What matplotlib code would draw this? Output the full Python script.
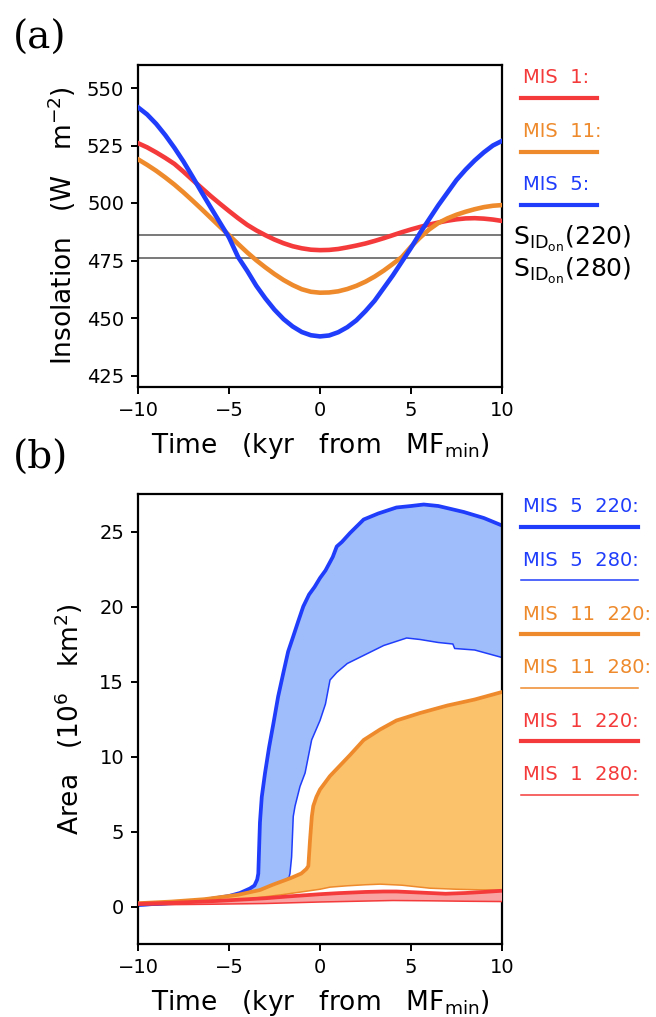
import numpy as np
import matplotlib
matplotlib.use("Agg")
import matplotlib.pyplot as plt
from matplotlib.lines import Line2D

plt.rcParams['font.family'] = ['DejaVu Sans']
plt.rcParams['mathtext.fontset'] = 'dejavusans'

# ---- panel (a): insolation (read every 0.5 kyr) ----
t_ins = [-10, -9.5, -9, -8.5, -8, -7.5, -7, -6.5, -6, -5.5, -5, -4.5, -4, -3.5, -3, -2.5,
         -2, -1.5, -1, -0.5, 0, 0.5, 1, 1.5, 2, 2.5, 3, 3.5, 4, 4.5, 5, 5.5, 6, 6.5,
         7, 7.5, 8, 8.5, 9, 9.5, 10]
ins_mis1 = [526, 524.2, 522, 519.6, 517, 513.6, 510, 506.5, 503, 499.7, 496.5, 493.4,
            490.5, 488.1, 486, 484.1, 482.5, 481.2, 480.3, 479.7, 479.5, 479.6, 480,
            480.7, 481.5, 482.4, 483.5, 484.7, 486, 487.3, 488.5, 489.6, 490.6, 491.5,
            492.3, 492.9, 493.3, 493.4, 493.2, 492.8, 492.2]
ins_mis11 = [519, 516.6, 514, 511.1, 508, 504.6, 501, 497.3, 493.5, 489.7, 486, 482.2,
             478.5, 475.1, 472, 469.1, 466.5, 464.3, 462.5, 461.4, 461, 461.1, 461.6,
             462.6, 464, 465.8, 468, 470.6, 473.5, 476.5, 481, 485, 488.5, 491.3, 493.3,
             494.9, 496.2, 497.3, 498.2, 498.8, 499.1]
ins_mis5 = [541.6, 538.5, 534.4, 529.5, 524, 518, 511.4, 504.6, 498, 491.5, 485, 476.5,
            470.5, 464, 458.5, 453.6, 449.5, 446.3, 443.9, 442.5, 442, 442.4, 443.8,
            446, 449, 453, 457.5, 463, 468.5, 474.5, 480.5, 487, 493, 499, 504.5, 510,
            514.5, 518.5, 522, 525, 527]
s_on = [486, 476]
s_on_labels = ['220', '280']

# ---- panel (b): area ----
t_mis5_220 = [-10, -8, -6.3, -5, -4.4, -3.85, -3.6, -3.45, -3.39, -3.3, -3.2, -3.02,
              -2.8, -2.56, -2.3, -2.01, -1.75, -1.5, -1.2, -0.92, -0.6, -0.3, 0, 0.3,
              0.7, 0.92, 1.2, 1.65, 2.4, 3.2, 4.2, 5.0, 5.7, 6.5, 7.9, 9.0, 10]
a_mis5_220 = [0.1, 0.25, 0.45, 0.7, 0.9, 1.2, 1.4, 1.8, 2.2, 5.6, 7.3, 8.9,
              10.6, 12.2, 14.0, 15.6, 17.0, 17.9, 19.0, 20.0, 20.8, 21.3, 21.9, 22.4,
              23.3, 24.0, 24.3, 24.9, 25.8, 26.2, 26.6, 26.7, 26.8, 26.7, 26.3, 25.9, 25.4]
t_mis5_280 = [-10, -8, -6, -4, -3, -2, -1.7, -1.65, -1.56, -1.47, -1.37, -1.1, -0.82,
              -0.46, 0, 0.3, 0.55, 0.92, 1.5, 2.5, 3.5, 4.76, 5.5, 6.5, 7.3, 7.4, 8.5, 10]
a_mis5_280 = [0.05, 0.15, 0.35, 0.8, 1.2, 1.7, 1.95, 2.2, 3.3, 6.0, 6.7, 8.0, 8.9,
              11.1, 12.4, 13.5, 15.1, 15.6, 16.2, 16.8, 17.4, 17.9, 17.8, 17.6, 17.5,
              17.2, 17.1, 16.6]
t_mis11_220 = [-10, -8.17, -6.34, -4.5, -3.3, -2.6, -1.6, -1.03, -0.75, -0.64, -0.55,
               -0.45, -0.37, -0.2, 0, 0.55, 1.1, 1.65, 2.4, 3.3, 4.2, 5.5, 7.0, 8.5, 10]
a_mis11_220 = [0.22, 0.33, 0.49, 0.78, 1.1, 1.45, 1.9, 2.2, 2.5, 2.7, 4.4,
               6.0, 6.7, 7.3, 7.8, 8.7, 9.4, 10.1, 11.1, 11.8, 12.4, 12.9, 13.4, 13.8, 14.3]
t_mis11_280 = [-10, -8, -6, -4, -2, 0, 0.55, 1.5, 2.5, 3.3, 4.5, 6.04, 7.5, 8.79, 10]
a_mis11_280 = [0.15, 0.2, 0.3, 0.5, 0.8, 1.15, 1.29, 1.38, 1.45, 1.49, 1.42, 1.22,
               1.15, 1.11, 1.1]
t_mis1_220 = [-10, -8, -6, -4.5, -3, -1.76, 0, 1, 2.5, 3.5, 4.2, 5.5, 6.9, 8, 9, 10]
a_mis1_220 = [0.18, 0.25, 0.35, 0.45, 0.55, 0.67, 0.82, 0.89, 0.97, 1.0, 1.0, 0.93,
              0.85, 0.9, 0.97, 1.05]
t_mis1_280 = [-10, -6, -3, 0, 2, 4, 6, 8, 10]
a_mis1_280 = [0.1, 0.15, 0.2, 0.3, 0.35, 0.4, 0.38, 0.35, 0.33]

RED = '#f43a3a'
ORANGE = '#ee8a2c'
BLUE = '#1f3dfa'
BLUE_FILL = '#9fbdfb'
ORANGE_FILL = '#fcc16b'
RED_FILL = '#f9a3a3'

W, H = 656, 1017
fig = plt.figure(figsize=(W / 100, H / 100), dpi=100)


def fx(x):
    return x / W


def fy(y):
    return 1 - y / H


def style_axes(ax):
    for s in ax.spines.values():
        s.set_linewidth(1.6)
    ax.tick_params(direction='out', length=5, width=1.4, labelsize=14, pad=5)
    ax.set_xlim(-10, 10)
    ax.set_xticks([-10, -5, 0, 5, 10])
    ax.set_xticklabels(['\u221210', '\u22125', '0', '5', '10'])


xlabel = r'Time   (kyr   from   MF$_{\mathregular{min}}$)'

# panel (a)
ax1 = fig.add_axes([fx(138), fy(387), fx(502) - fx(138), fy(65) - fy(387)])
style_axes(ax1)
for v in s_on:
    ax1.axhline(v, color='#555555', lw=1.1, zorder=1)
ax1.plot(t_ins, ins_mis1, color=RED, lw=3.3, zorder=3)
ax1.plot(t_ins, ins_mis11, color=ORANGE, lw=3.3, zorder=3)
ax1.plot(t_ins, ins_mis5, color=BLUE, lw=3.3, zorder=4)
ax1.set_ylim(420, 560)
ax1.set_yticks([425, 450, 475, 500, 525, 550])
ax1.set_ylabel(r'Insolation   (W   m$^{\mathregular{-2}}$)', fontsize=19, labelpad=6)
ax1.set_xlabel(xlabel, fontsize=19, labelpad=8)

for v, lab, base in zip(s_on, s_on_labels, [245, 277]):
    fig.text(fx(513), fy(base), r'S$_{\mathregular{ID}_{\mathregular{on}}}$(' + lab + ')',
             fontsize=18, va='baseline', ha='left')

# panel (b)
ax2 = fig.add_axes([fx(138), fy(944), fx(502) - fx(138), fy(494) - fy(944)])
style_axes(ax2)
ax2.fill(np.r_[t_mis5_220, t_mis5_280[::-1]], np.r_[a_mis5_220, a_mis5_280[::-1]],
         color=BLUE_FILL, lw=0, zorder=1)
ax2.plot(t_mis5_280, a_mis5_280, color=BLUE, lw=1.1, zorder=2)
ax2.plot(t_mis5_220, a_mis5_220, color=BLUE, lw=2.7, zorder=2)
ax2.fill(np.r_[t_mis11_220, t_mis11_280[::-1]], np.r_[a_mis11_220, a_mis11_280[::-1]],
         color=ORANGE_FILL, lw=0, zorder=3)
ax2.plot(t_mis11_280, a_mis11_280, color=ORANGE, lw=1.1, zorder=4)
ax2.plot(t_mis11_220, a_mis11_220, color=ORANGE, lw=2.7, zorder=4)
ax2.fill(np.r_[t_mis1_220, t_mis1_280[::-1]], np.r_[a_mis1_220, a_mis1_280[::-1]],
         color=RED_FILL, lw=0, zorder=5)
ax2.plot(t_mis1_280, a_mis1_280, color=RED, lw=1.1, zorder=6)
ax2.plot(t_mis1_220, a_mis1_220, color=RED, lw=2.7, zorder=6)
ax2.set_ylim(-2.5, 27.5)
ax2.set_yticks([0, 5, 10, 15, 20, 25])
ax2.set_ylabel(r'Area   (10$^{\mathregular{6}}$   km$^{\mathregular{2}}$)', fontsize=19, labelpad=10)
ax2.set_xlabel(xlabel, fontsize=19, labelpad=8)

# legends (drawn by hand, as in the original)
leg_a = [('MIS  1:', RED, 3.0, 83, 98), ('MIS  11:', ORANGE, 3.0, 137, 152),
         ('MIS  5:', BLUE, 3.0, 190, 205)]
for txt, c, lw, ty, ly in leg_a:
    fig.text(fx(523), fy(ty), txt, color=c, fontsize=14, va='baseline', ha='left')
    fig.add_artist(Line2D([fx(521), fx(597)], [fy(ly), fy(ly)], color=c, lw=lw,
                          transform=fig.transFigure))

leg_b = [('MIS  5  220:', BLUE, 3.0, 512, 527), ('MIS  5  280:', BLUE, 1.1, 566, 580),
         ('MIS  11  220:', ORANGE, 3.0, 620, 634), ('MIS  11  280:', ORANGE, 1.1, 673, 688),
         ('MIS  1  220:', RED, 3.0, 727, 741), ('MIS  1  280:', RED, 1.1, 780, 795)]
for txt, c, lw, ty, ly in leg_b:
    fig.text(fx(523), fy(ty), txt, color=c, fontsize=14, va='baseline', ha='left')
    fig.add_artist(Line2D([fx(521), fx(638)], [fy(ly), fy(ly)], color=c, lw=lw,
                          transform=fig.transFigure))

fig.text(fx(13), fy(38), '(a)', family='DejaVu Serif', fontsize=28, va='center', ha='left')
fig.text(fx(13), fy(458), '(b)', family='DejaVu Serif', fontsize=28, va='center', ha='left')

fig.savefig('out.png', dpi=100)
